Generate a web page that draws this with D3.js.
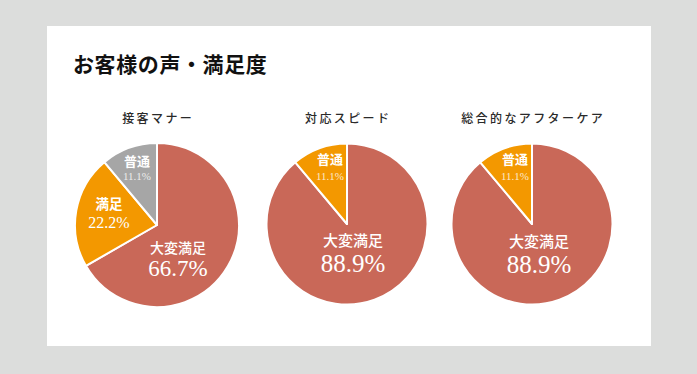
<!DOCTYPE html>
<html>
<head>
<meta charset="utf-8">
<script src="https://cdn.jsdelivr.net/npm/d3@7"></script>
<style>
html,body{margin:0;padding:0;background:#dcdddc;}
svg{display:block;}
</style>
</head>
<body>
<svg id="chart" width="697" height="374"></svg>
<script>
// ---- data ----
const title = "お客様の声・満足度";
const chartTitles = ["接客マナー", "対応スピード", "総合的なアフターケア"];
const categories = ["大変満足", "満足", "普通"];
const seriesValues = [
  [66.7, 22.2, 11.1],
  [88.9, 0, 11.1],
  [88.9, 0, 11.1]
];
const valueLabels = [
  ["66.7%", "22.2%", "11.1%"],
  ["88.9%", "", "11.1%"],
  ["88.9%", "", "11.1%"]
];

// ---- layout / style ----
const W = 697, H = 374;
const sliceColors = ["#c96858", "#f39800", "#a6a6a6"];
const pieCenters = [{x:157, y:225, r:82}, {x:347, y:224, r:80.5}, {x:532, y:224, r:80.5}];
// label placement per drawn slice: dx offset, name visual centre, value baseline (relative to pie centre)
const labelLayout = [
  [ {dx:21, nameC:22.5, valB:51, nf:14, vf:23},
    {dx:-48, nameC:-21.5, valB:3, nf:13.5, vf:16},
    {dx:-20, nameC:-64, valB:-45, nf:13, vf:11} ],
  [ {dx:6, nameC:16.5, valB:48, nf:15, vf:25},
    {dx:-17, nameC:-65, valB:-44, nf:13, vf:11} ],
  [ {dx:7, nameC:17.5, valB:49, nf:15, vf:25},
    {dx:-17, nameC:-65, valB:-44, nf:13, vf:11} ]
];

const svg = d3.select("#chart");
svg.append("rect").attr("x",0).attr("y",0).attr("width",W).attr("height",H).attr("fill","#dcdddc");
svg.append("rect").attr("x",47).attr("y",26).attr("width",604).attr("height",320).attr("fill","#ffffff");

svg.append("text")
  .attr("x", 73).attr("y", 72)
  .attr("font-family", "'Noto Sans CJK JP', 'Noto Sans', sans-serif")
  .attr("font-weight", 700)
  .attr("font-size", 21)
  .attr("letter-spacing", 0.6)
  .attr("fill", "#111")
  .text(title);

const serifFont = "'Liberation Serif', 'DejaVu Serif', 'Noto Sans CJK JP', serif";
const pie = d3.pie().sort(null).value(d => d.value);

chartTitles.forEach((ct, i) => {
  const c = pieCenters[i];
  const g = svg.append("g").attr("transform", `translate(${c.x},${c.y})`);

  svg.append("text")
    .attr("x", c.x + 1.2).attr("y", 123)
    .attr("text-anchor", "middle")
    .attr("font-family", "'Noto Sans CJK JP', sans-serif")
    .attr("font-weight", 500)
    .attr("font-size", 12)
    .attr("letter-spacing", 2.4)
    .attr("fill", "#2a2a2a")
    .text(ct);

  const data = categories.map((cat, k) => ({cat, value: seriesValues[i][k], label: valueLabels[i][k]}))
    .filter(d => d.value > 0);
  const arcs = pie(data);
  const arc = d3.arc().innerRadius(0).outerRadius(c.r);

  g.selectAll("path.slice").data(arcs).join("path")
    .attr("class", "slice")
    .attr("d", arc)
    .attr("fill", (d, k) => sliceColors[k])
    .attr("stroke", "#ffffff")
    .attr("stroke-width", 2)
    .attr("stroke-linejoin", "round");

  arcs.forEach((a, k) => {
    const L = labelLayout[i][k];
    g.append("text")
      .attr("x", L.dx).attr("y", L.nameC + 0.38 * L.nf)
      .attr("text-anchor", "middle")
      .attr("font-family", "'Noto Sans CJK JP', sans-serif")
      .attr("font-weight", k === 0 ? 500 : 700)
      .attr("font-size", L.nf)
      .attr("fill", "#ffffff")
      .text(a.data.cat);
    g.append("text")
      .attr("x", L.dx).attr("y", L.valB)
      .attr("text-anchor", "middle")
      .attr("font-family", serifFont)
      .attr("font-size", L.vf)
      .attr("fill", "#ffffff")
      .attr("fill-opacity", k === arcs.length - 1 ? 0.8 : 1)
      .text(a.data.label);
  });
});
</script>
</body>
</html>
